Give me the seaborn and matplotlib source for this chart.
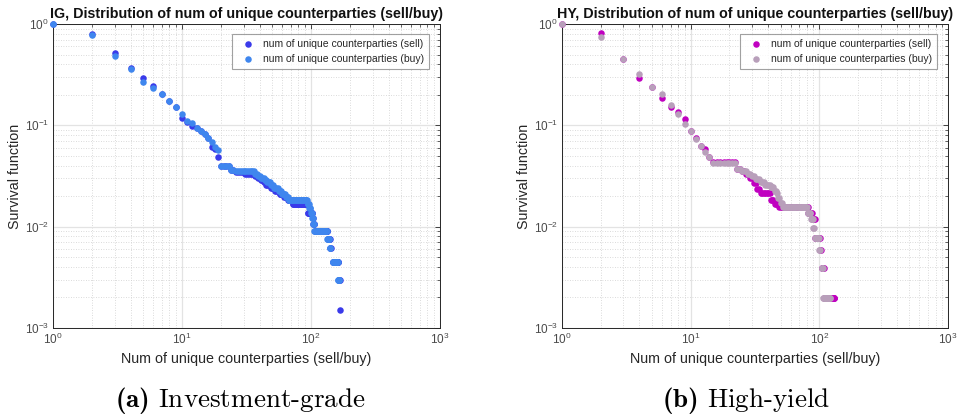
import numpy as np
import pandas as pd
import matplotlib
matplotlib.use("Agg")
import matplotlib.pyplot as plt
import seaborn as sns
from matplotlib.ticker import LogLocator, NullFormatter

# ---------------- data (runs of dots: x from x0 to x1 at level y) ----------------
ig_sell_x0 = [1, 2, 3, 4, 5, 6, 7, 8, 9, 10, 11, 12, 13, 14, 15, 16, 17, 18, 19,
              20, 24, 26, 31, 37, 39, 41, 43, 45, 49, 53, 57, 62, 66, 72, 94, 103, 104, 107, 135, 141, 148, 164, 168]
ig_sell_x1 = [1, 2, 3, 4, 5, 6, 7, 8, 9, 10, 11, 12, 13, 14, 15, 16, 17, 18, 19,
              23, 25, 30, 36, 38, 40, 42, 44, 48, 52, 56, 61, 65, 71, 93, 102, 103, 106, 134, 140, 142, 163, 167, 168]
ig_sell_y = [1.0, 0.80, 0.514, 0.37, 0.293, 0.246, 0.204, 0.174, 0.150, 0.119, 0.108, 0.098, 0.094, 0.088, 0.082, 0.075, 0.0615, 0.059, 0.049,
             0.0394, 0.0364, 0.0348, 0.0333, 0.0318, 0.0303, 0.0288, 0.0273, 0.0258, 0.0242, 0.0227, 0.0212, 0.0197, 0.0182, 0.0167, 0.0136, 0.0121, 0.0106, 0.0091, 0.0076, 0.0061, 0.0045, 0.0030, 0.0015]

ig_buy_x0 = [1, 2, 3, 4, 5, 6, 7, 8, 9, 10, 11, 12, 13, 14, 15, 16, 17, 18, 19,
             20, 24, 26, 37, 39, 41, 44, 46, 49, 52, 56, 60, 64, 67, 94, 97, 100, 102, 104, 106, 134, 140, 147, 162]
ig_buy_x1 = [1, 2, 3, 4, 5, 6, 7, 8, 9, 10, 11, 12, 13, 14, 15, 16, 17, 18, 19,
             23, 25, 36, 38, 40, 43, 45, 48, 51, 55, 59, 63, 66, 93, 96, 99, 101, 103, 105, 132, 139, 141, 161, 166]
ig_buy_y = [1.0, 0.78, 0.487, 0.36, 0.266, 0.233, 0.204, 0.174, 0.150, 0.128, 0.110, 0.105, 0.095, 0.088, 0.082, 0.075, 0.069, 0.0615, 0.057,
            0.0394, 0.0364, 0.0352, 0.0333, 0.0318, 0.0303, 0.0288, 0.0273, 0.0258, 0.0242, 0.0227, 0.0212, 0.0197, 0.0182, 0.0167, 0.0152, 0.0136, 0.0121, 0.0106, 0.0091, 0.0076, 0.0061, 0.0045, 0.0030]

hy_sell_x0 = [1, 2, 3, 4, 5, 6, 7, 8, 9, 10, 11, 12, 13, 14,
              15, 23, 25, 27, 29, 31, 33, 35, 42, 45, 49, 82, 88, 93, 102, 104, 109]
hy_sell_x1 = [1, 2, 3, 4, 5, 6, 7, 8, 9, 10, 11, 12, 13, 14,
              22, 24, 26, 28, 30, 32, 34, 41, 44, 48, 81, 87, 92, 101, 103, 108, 131]
hy_sell_y = [1.0, 0.82, 0.448, 0.295, 0.237, 0.185, 0.150, 0.136, 0.115, 0.088, 0.075, 0.0625, 0.058, 0.049,
             0.0437, 0.0373, 0.0353, 0.0333, 0.0300, 0.0268, 0.0235, 0.0213, 0.0183, 0.0166, 0.0157, 0.0137, 0.0118, 0.0078, 0.0059, 0.0039, 0.00196]

hy_buy_x0 = [1, 2, 3, 4, 5, 6, 7, 8, 9, 10, 11, 12, 13, 14,
             15, 23, 25, 28, 30, 32, 35, 38, 42, 45, 47, 48, 50, 52, 81, 86, 90, 93, 100, 104, 107]
hy_buy_x1 = [1, 2, 3, 4, 5, 6, 7, 8, 9, 10, 11, 12, 13, 14,
             22, 24, 27, 29, 31, 34, 37, 41, 44, 46, 47, 49, 51, 80, 85, 89, 91, 99, 101, 106, 121]
hy_buy_y = [1.0, 0.75, 0.448, 0.321, 0.237, 0.202, 0.158, 0.129, 0.103, 0.087, 0.073, 0.0625, 0.055, 0.049,
            0.0423, 0.0373, 0.0353, 0.0333, 0.0314, 0.0294, 0.0275, 0.0258, 0.0245, 0.0225, 0.0213, 0.0190, 0.0172, 0.0157, 0.0137, 0.0118, 0.0098, 0.0078, 0.0059, 0.0039, 0.00196]

lbl_sell = "num of unique counterparties (sell)"
lbl_buy = "num of unique counterparties (buy)"
titles = ["IG, Distribution of num of unique counterparties (sell/buy)",
          "HY, Distribution of num of unique counterparties (sell/buy)"]
captions = [(r"$\mathbf{(a)}$", "Investment-grade"), (r"$\mathbf{(b)}$", "High-yield")]
xlabel = "Num of unique counterparties (sell/buy)"
ylabel = "Survival function"


def runs(x0, x1, y):
    xs, ys = [], []
    for a, b, v in zip(x0, x1, y):
        for x in range(a, b + 1):
            xs.append(x)
            ys.append(v)
    return pd.DataFrame({"x": xs, "y": ys})


sns.set_theme(style="white")
plt.rcParams["font.family"] = ["Liberation Sans", "DejaVu Sans"]
plt.rcParams["mathtext.fontset"] = "custom"
plt.rcParams["mathtext.rm"] = "cmr10"
plt.rcParams["mathtext.bf"] = "cmb10"
plt.rcParams["mathtext.it"] = "cmr10:italic"
plt.rcParams["axes.unicode_minus"] = False

fig = plt.figure(figsize=(9.59, 4.18), dpi=100)
W, H = 959, 418
ax_l = fig.add_axes([53 / W, 1 - 328 / H, 387 / W, 304 / H])
ax_r = fig.add_axes([562 / W, 1 - 328 / H, 386 / W, 304 / H])

panels = [
    (ax_l, runs(ig_sell_x0, ig_sell_x1, ig_sell_y), runs(ig_buy_x0, ig_buy_x1, ig_buy_y), "#3a3aea", "#3f86ee"),
    (ax_r, runs(hy_sell_x0, hy_sell_x1, hy_sell_y), runs(hy_buy_x0, hy_buy_x1, hy_buy_y), "#c000c0", "#b89fba"),
]

for i, (ax, dsell, dbuy, csell, cbuy) in enumerate(panels):
    sns.scatterplot(data=dsell, x="x", y="y", ax=ax, color=csell, s=22, linewidth=0, label=lbl_sell, zorder=3)
    sns.scatterplot(data=dbuy, x="x", y="y", ax=ax, color=cbuy, s=22, linewidth=0, label=lbl_buy, zorder=3)
    for coll in ax.collections:
        coll.set_clip_on(False)
    ax.set_xscale("log")
    ax.set_yscale("log")
    ax.set_xlim(1, 1000)
    ax.set_ylim(1e-3, 1)
    ax.xaxis.set_major_locator(LogLocator(base=10, numticks=10))
    ax.yaxis.set_major_locator(LogLocator(base=10, numticks=10))
    ax.xaxis.set_minor_locator(LogLocator(base=10, subs=np.arange(2, 10), numticks=20))
    ax.yaxis.set_minor_locator(LogLocator(base=10, subs=np.arange(2, 10), numticks=20))
    ax.xaxis.set_minor_formatter(NullFormatter())
    ax.yaxis.set_minor_formatter(NullFormatter())
    ax.grid(True, which="major", color="#e3e3e3", linewidth=0.9, linestyle="-")
    ax.grid(True, which="minor", color="#cfcfcf", linewidth=0.6, linestyle=(0, (1, 2)))
    ax.set_axisbelow(True)
    ax.tick_params(which="both", direction="in", top=True, right=True, color="#262626",
                   labelsize=8.5, labelcolor="#4a4a4a", pad=3)
    ax.tick_params(which="major", length=3.5, width=0.6)
    ax.tick_params(which="minor", length=2, width=0.5)
    for sp in ax.spines.values():
        sp.set_color("#262626")
        sp.set_linewidth(0.7)
    ax.set_xlabel(xlabel, fontsize=10.3, color="#262626", labelpad=3)
    ax.set_ylabel(ylabel, fontsize=10.3, color="#262626", labelpad=2)
    ax.set_title(titles[i], fontsize=10.3, fontweight="bold", color="#111111", pad=4)
    leg = ax.legend(loc="upper right", fontsize=7.5, frameon=True, fancybox=False,
                    borderpad=0.5, handletextpad=0.4, markerscale=1.0,
                    bbox_to_anchor=(0.985, 0.985), labelspacing=0.45)
    leg.get_frame().set_edgecolor("#8a8a8a")
    leg.get_frame().set_linewidth(0.8)
    for t in leg.get_texts():
        t.set_color("#262626")

# captions
for cx, (lab, txt) in zip([240 / W, 746 / W], captions):
    fig.text(cx, 1 - 400 / H, lab + " " + txt, ha="center", va="center", fontsize=19.5,
             family=["cmr10", "DejaVu Serif"], color="black")

fig.savefig("out.png", dpi=100)
